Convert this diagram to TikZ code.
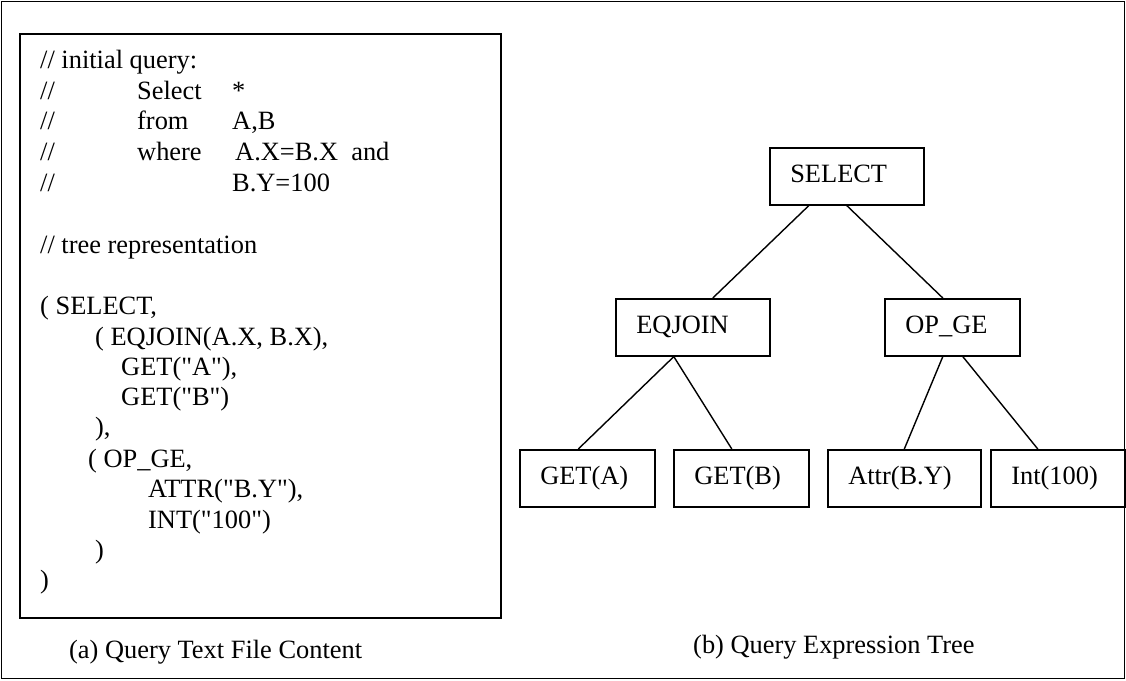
\documentclass[tikz,border=0pt]{standalone}
\usepackage{fontspec}
\setmainfont{Liberation Serif}
\newfontfamily\codefamily{Liberation Serif}
\usetikzlibrary{calc,positioning}
\newcommand{\codefont}{\codefamily\fontsize{26.4pt}{31pt}\selectfont}
\tikzset{
	code/.style={anchor=base west,inner sep=0pt,font=\codefont},
	opbox/.style={draw,line width=1.6pt,anchor=north west,align=left,font=\codefont,
		inner xsep=20.5pt,inner ysep=16.5pt,text height=18pt,text depth=6pt},
	branch/.style={line width=1.4pt},
}

\begin{document}
\begin{tikzpicture}[x=1pt,y=-1pt,black]
				\useasboundingbox (0, 0) rectangle (1126, 680);
				% Frames
				\draw[line width=1.8pt] (1.5, 1.5) rectangle (1124.5, 678.5);
				\draw[line width=1.8pt] (20, 34) rectangle (501, 618);

				% Query text
				\node[code] (c1) at (40, 68) {// initial query:};
				\node[code] (c2) at (40, 99) {//};
				\node[code] (c2k) at (137, 99) {Select};
				\node[code] (c2v) at (232, 99) {*};
				\node[code] (c3) at (40, 129) {//};
				\node[code] (c3k) at (137, 129) {from};
				\node[code] (c3v) at (232, 129) {A,B};
				\node[code] (c4) at (40, 160) {//};
				\node[code] (c4k) at (137, 160) {where};
				\node[code] (c4v) at (235, 160) {A.X=B.X\ \ and};
				\node[code] (c5) at (40, 191) {//};
				\node[code] (c5v) at (232, 191) {B.Y=100};
				\node[code] (c6) at (40, 253) {// tree representation};
				\node[code] (t1) at (40, 314) {( SELECT,};
				\node[code] (t2) at (95, 345) {( EQJOIN(A.X, B.X),};
				\node[code] (t3) at (121, 375) {GET("A"),};
				\node[code] (t4) at (121, 405) {GET("B")};
				\node[code] (t5) at (95, 435) {),};
				\node[code] (t6) at (88, 467) {( OP\_GE,};
				\node[code] (t7) at (148, 497) {ATTR("B.Y"),};
				\node[code] (t8) at (148, 528) {INT("100")};
				\node[code] (t9) at (95, 558) {)};
				\node[code] (t10) at (40, 588) {)};

				% Tree
				\node[opbox,text width=113pt] (sel) at (769, 147) {SELECT};
				\node[opbox,text width=113pt] (eqj) at (615, 298) {EQJOIN};
				\node[opbox,text width=94pt] (opge) at (884, 298) {OP\_GE};
				\node[opbox,text width=94pt] (geta) at (519, 449) {GET(A)};
				\node[opbox,text width=94pt] (getb) at (673, 449) {GET(B)};
				\node[opbox,text width=112pt] (attr) at (827, 449) {Attr(B.Y)};
				\node[opbox,text width=93pt] (int) at (990, 449) {Int(100)};

				\draw[branch]
					([xshift=-38pt]sel.south) -- ([xshift=20pt]eqj.north)
					(sel.south) -- ([xshift=-9.5pt]opge.north)
					([xshift=-19pt]eqj.south) -- ([xshift=-9pt]geta.north)
					([xshift=-19pt]eqj.south) -- ([xshift=-9.5pt]getb.north)
					([xshift=-9.5pt]opge.south) -- (attr.north)
					([xshift=10.5pt]opge.south) -- ([xshift=-20pt]int.north)
					;

				% Captions
				\node[code] (capa) at (69, 658) {(a) Query Text File Content};
				\node[code] (capb) at (693, 653) {(b) Query Expression Tree};
\end{tikzpicture}
\end{document}
